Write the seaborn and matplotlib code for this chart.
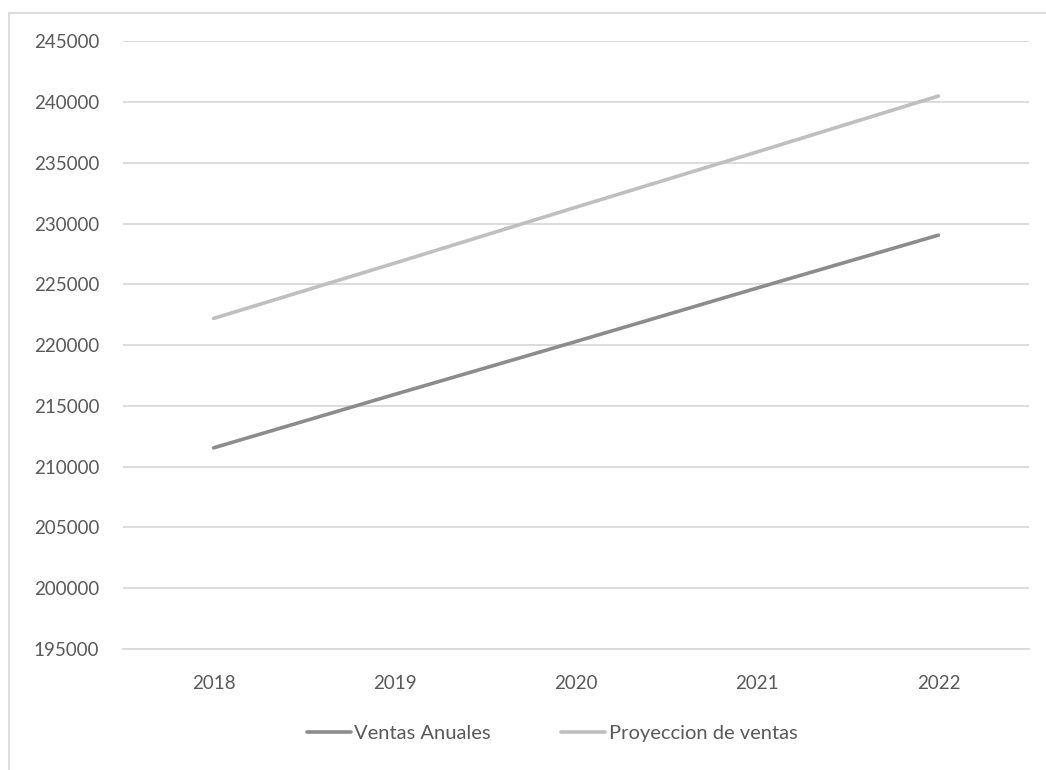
import matplotlib
matplotlib.use("Agg")
import matplotlib.pyplot as plt
import seaborn as sns
import pandas as pd
from matplotlib.patches import Rectangle

years = ["2018", "2019", "2020", "2021", "2022"]
ventas_anuales = [211550, 215950, 220300, 224700, 229050]
proyeccion_ventas = [222200, 226750, 231350, 235900, 240500]
series_names = ["Ventas Anuales", "Proyeccion de ventas"]
y_ticks = [195000, 200000, 205000, 210000, 215000, 220000, 225000, 230000, 235000, 240000, 245000]

df = pd.DataFrame({
    "Año": years * 2,
    "Valor": ventas_anuales + proyeccion_ventas,
    "Serie": [series_names[0]] * len(years) + [series_names[1]] * len(years),
})

sns.set_theme(style="white")
plt.rcParams["font.family"] = ["Lato", "DejaVu Sans"]

text_color = "#595959"
grid_color = "#D9D9D9"
palette = {series_names[0]: "#8C8C8C", series_names[1]: "#BFBFBF"}

fig = plt.figure(figsize=(10.46, 7.70), dpi=100)
ax = fig.add_axes([123 / 1046, 1 - 649 / 770, (1029 - 123) / 1046, (649 - 41.3) / 770])

sns.lineplot(data=df, x="Año", y="Valor", hue="Serie", palette=palette,
             linewidth=2.6, ax=ax, sort=False, legend=True,
             solid_capstyle="round")

ax.set_xlim(-0.5, len(years) - 0.5)
ax.set_ylim(y_ticks[0], y_ticks[-1])
ax.set_yticks(y_ticks)
ax.set_yticklabels([str(v) for v in y_ticks])
ax.yaxis.grid(True, color=grid_color, linewidth=1.3)
ax.xaxis.grid(False)
ax.set_axisbelow(True)
for s in ["top", "right", "left"]:
    ax.spines[s].set_visible(False)
ax.spines["bottom"].set_color(grid_color)
ax.spines["bottom"].set_linewidth(1.3)
ax.tick_params(axis="y", length=0, pad=17, labelsize=13.5, labelcolor=text_color)
ax.tick_params(axis="x", length=0, pad=19, labelsize=13.5, labelcolor=text_color)
ax.set_xlabel("")
ax.set_ylabel("")

handles, labels = ax.get_legend_handles_labels()
ax.get_legend().remove()
leg = fig.legend(handles, labels, loc="center", bbox_to_anchor=(552 / 1046, 1 - 733 / 770),
                 ncol=2, frameon=False, fontsize=14.5, handlelength=2.2,
                 handletextpad=0.15, columnspacing=3.5, labelcolor=text_color)
for line in leg.get_lines():
    line.set_linewidth(2.6)

border = Rectangle((9 / 1046, -0.1), 1.2, 1 - 12.5 / 770 + 0.1, transform=fig.transFigure,
                   fill=False, edgecolor="#D9D9D9", linewidth=1.3, zorder=0)
fig.patches.append(border)

fig.savefig("out.png", dpi=100, facecolor="white")
